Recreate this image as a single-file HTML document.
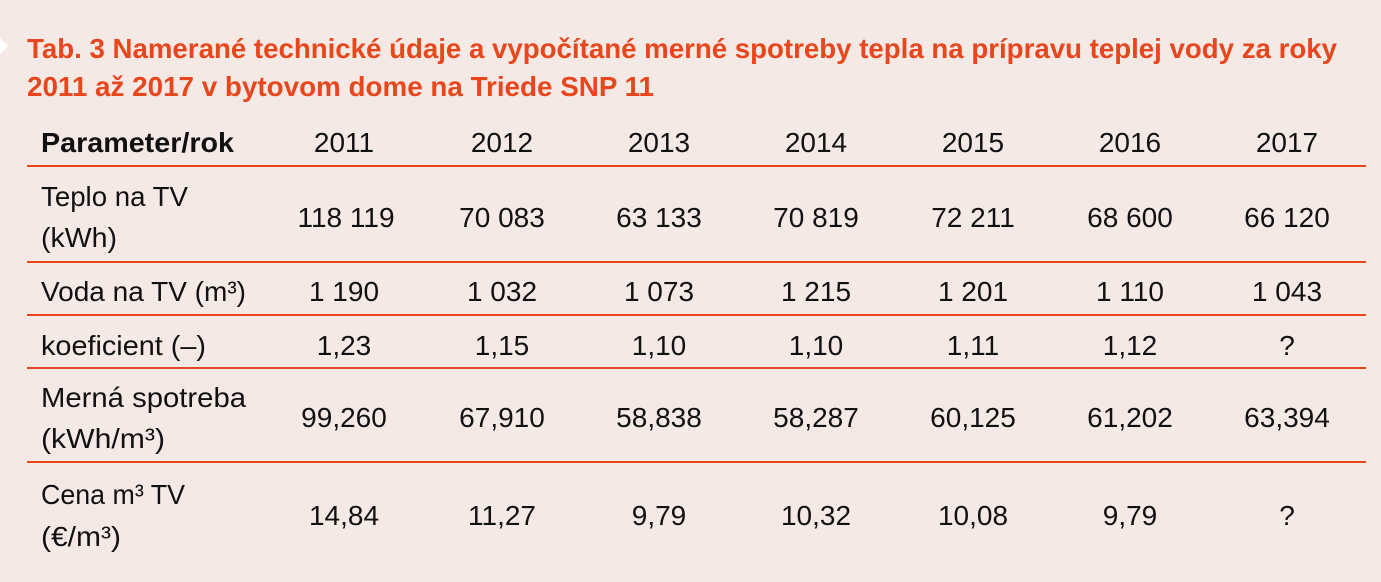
<!DOCTYPE html>
<html><head><meta charset="utf-8"><style>
html,body{margin:0;padding:0;background:#f5e9e6;}
svg{display:block;font-family:"Liberation Sans",sans-serif;}
</style></head><body>
<svg width="1381" height="582" xmlns="http://www.w3.org/2000/svg">
<rect width="1381" height="582" fill="#f5e9e6"/>
<polygon points="0,38 8,46 0,54" fill="#ffffff"/>
<g fill="#e8461c" font-weight="bold" font-size="28">
<text x="27" y="58" textLength="1310" lengthAdjust="spacingAndGlyphs">Tab. 3 Namerané technické údaje a vypočítané merné spotreby tepla na prípravu teplej vody za roky</text>
<text x="27" y="96" textLength="627" lengthAdjust="spacingAndGlyphs">2011 až 2017 v bytovom dome na Triede SNP 11</text>
</g>
<g stroke="#e8461c" stroke-width="2">
<line x1="27" y1="166" x2="1366" y2="166"/>
<line x1="27" y1="262" x2="1366" y2="262"/>
<line x1="27" y1="315" x2="1366" y2="315"/>
<line x1="27" y1="368" x2="1366" y2="368"/>
<line x1="27" y1="462" x2="1366" y2="462"/>
</g>
<g fill="#111" font-size="28">
<text x="41" y="152" font-weight="bold" textLength="193" lengthAdjust="spacingAndGlyphs">Parameter/rok</text>
<text x="41" y="206" textLength="147" lengthAdjust="spacingAndGlyphs">Teplo na TV</text>
<text x="41" y="247" textLength="76" lengthAdjust="spacingAndGlyphs">(kWh)</text>
<text x="41" y="301" textLength="205" lengthAdjust="spacingAndGlyphs">Voda na TV (m³)</text>
<text x="41" y="355" textLength="165" lengthAdjust="spacingAndGlyphs">koeficient (–)</text>
<text x="41" y="407" textLength="205" lengthAdjust="spacingAndGlyphs">Merná spotreba</text>
<text x="41" y="448" textLength="124" lengthAdjust="spacingAndGlyphs">(kWh/m³)</text>
<text x="41" y="504" textLength="144" lengthAdjust="spacingAndGlyphs">Cena m³ TV</text>
<text x="41" y="546" textLength="80" lengthAdjust="spacingAndGlyphs">(€/m³)</text>
</g>
<g fill="#111" font-size="28" text-anchor="middle">
<g transform="translate(0,152)">
<text x="344">2011</text><text x="502">2012</text><text x="659">2013</text><text x="816">2014</text><text x="973">2015</text><text x="1130">2016</text><text x="1287">2017</text>
</g>
<g transform="translate(0,227)">
<text x="346">118 119</text><text x="502">70 083</text><text x="659">63 133</text><text x="816">70 819</text><text x="973">72 211</text><text x="1130">68 600</text><text x="1287">66 120</text>
</g>
<g transform="translate(0,301)">
<text x="344">1 190</text><text x="502">1 032</text><text x="659">1 073</text><text x="816">1 215</text><text x="973">1 201</text><text x="1130">1 110</text><text x="1287">1 043</text>
</g>
<g transform="translate(0,355)">
<text x="344">1,23</text><text x="502">1,15</text><text x="659">1,10</text><text x="816">1,10</text><text x="973">1,11</text><text x="1130">1,12</text><text x="1287">?</text>
</g>
<g transform="translate(0,427)">
<text x="344">99,260</text><text x="502">67,910</text><text x="659">58,838</text><text x="816">58,287</text><text x="973">60,125</text><text x="1130">61,202</text><text x="1287">63,394</text>
</g>
<g transform="translate(0,525)">
<text x="344">14,84</text><text x="502">11,27</text><text x="659">9,79</text><text x="816">10,32</text><text x="973">10,08</text><text x="1130">9,79</text><text x="1287">?</text>
</g>
</g>
</svg>
</body></html>
